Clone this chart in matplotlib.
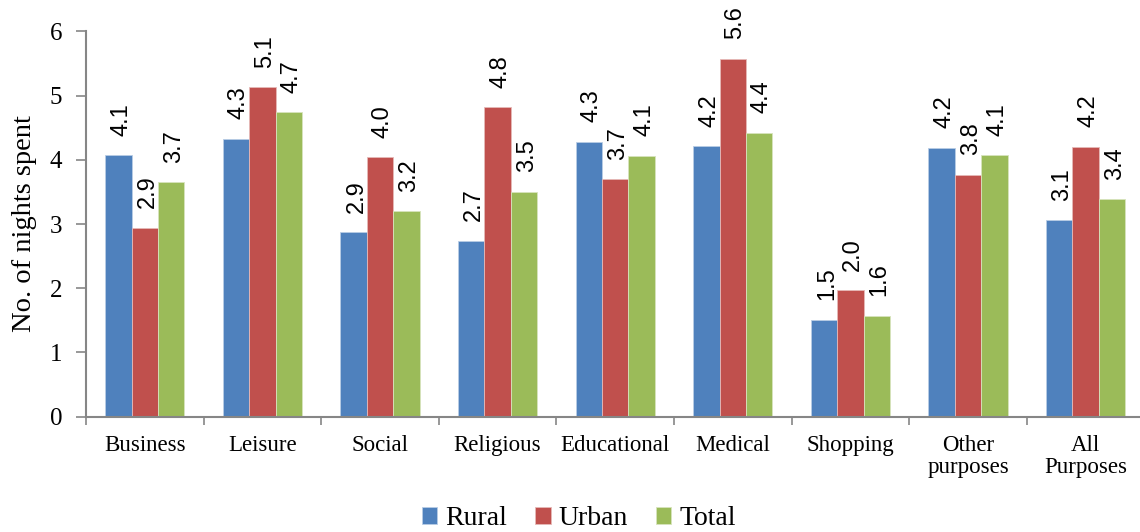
import matplotlib
matplotlib.use("Agg")
import matplotlib.pyplot as plt
import numpy as np

categories = ["Business", "Leisure", "Social", "Religious", "Educational",
              "Medical", "Shopping", "Other\npurposes", "All\nPurposes"]
series_names = ["Rural", "Urban", "Total"]
rural = [4.07, 4.33, 2.87, 2.74, 4.28, 4.21, 1.51, 4.19, 3.06]
urban = [2.94, 5.13, 4.04, 4.82, 3.70, 5.57, 1.97, 3.77, 4.20]
total = [3.65, 4.74, 3.20, 3.50, 4.06, 4.42, 1.57, 4.07, 3.39]
rural_labels = ["4.1", "4.3", "2.9", "2.7", "4.3", "4.2", "1.5", "4.2", "3.1"]
urban_labels = ["2.9", "5.1", "4.0", "4.8", "3.7", "5.6", "2.0", "3.8", "4.2"]
total_labels = ["3.7", "4.7", "3.2", "3.5", "4.1", "4.4", "1.6", "4.1", "3.4"]
y_ticks = [0, 1, 2, 3, 4, 5, 6]

colors = ["#4F81BD", "#C0504D", "#9BBB59"]
edges = ["#B9CDE5", "#E6B9B8", "#D7E4BD"]
serif = ["Liberation Serif", "DejaVu Serif"]
sans = ["Liberation Sans", "DejaVu Sans"]

fig = plt.figure(figsize=(11.4, 5.32), dpi=100)
ax = fig.add_axes([86/1140, 1 - 416.7/532, (9*117.6)/1140, (416.7-31.3)/532])

x = np.arange(len(categories))
w = 0.224
data = [rural, urban, total]
labels = [rural_labels, urban_labels, total_labels]
for i, (vals, labs) in enumerate(zip(data, labels)):
    pos = x + (i - 1) * w
    ax.bar(pos, vals, width=w, color=colors[i], edgecolor=edges[i], linewidth=0.6,
           label=series_names[i], zorder=2)
    for px, v, t in zip(pos, vals, labs):
        ax.annotate(t, (px, v), xytext=(2, 14), textcoords="offset points",
                    rotation=90, ha="center", va="bottom", fontsize=17,
                    family=sans, color="black")

ax.set_xlim(-0.5, len(categories) - 0.5)
ax.set_ylim(0, 6)
ax.set_yticks(y_ticks)
ax.set_yticklabels([str(t) for t in y_ticks], family=serif, fontsize=18)
ax.set_xticks(x)
ax.set_xticklabels(categories, family=serif, fontsize=16.5, linespacing=1.05)
ax.set_xticks(np.arange(len(categories) + 1) - 0.5, minor=True)
ax.tick_params(axis="x", which="major", length=0, pad=13)
ax.tick_params(axis="x", which="minor", length=6, width=1.2, color="#868686")
ax.tick_params(axis="y", length=7, width=1.2, color="#868686", pad=10)

for s in ["top", "right"]:
    ax.spines[s].set_visible(False)
for s in ["left", "bottom"]:
    ax.spines[s].set_color("#868686")
    ax.spines[s].set_linewidth(1.5)

ax.set_ylabel("No. of nights spent", family=serif, fontsize=20.5, labelpad=9)

leg = fig.legend(loc="center", bbox_to_anchor=(0.508, 0.025), ncol=3, frameon=False,
                 prop={"family": serif, "size": 20}, handlelength=0.55,
                 handleheight=0.55, handletextpad=0.3, columnspacing=1.0)

fig.savefig("out.png", dpi=100)
